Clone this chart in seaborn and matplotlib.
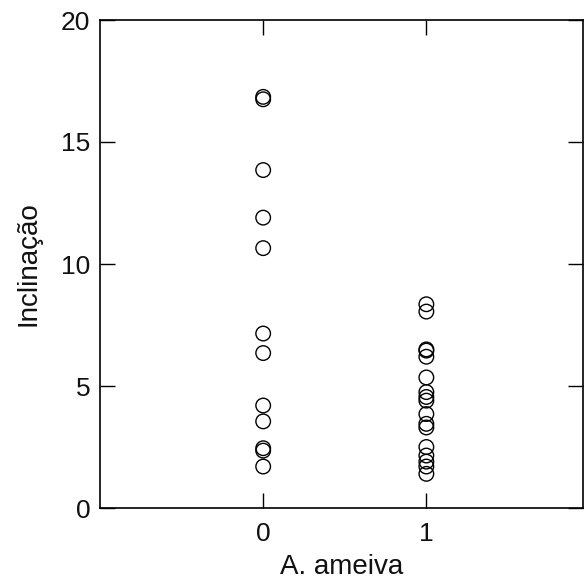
import seaborn as sns
import matplotlib.pyplot as plt
import pandas as pd

# values
grupo0 = [16.85, 16.75, 13.85, 11.9, 10.65, 7.15, 6.35, 4.2, 3.55, 2.45, 2.35, 1.7]
grupo1 = [8.35, 8.05, 6.5, 6.45, 6.2, 5.35, 4.75, 4.55, 4.4, 3.85, 3.45, 3.3,
          2.5, 2.15, 1.9, 1.7, 1.4]
xticks = [0, 1]
yticks = [0, 5, 10, 15, 20]

df = pd.DataFrame({
    "ameiva": [0] * len(grupo0) + [1] * len(grupo1),
    "inclinacao": grupo0 + grupo1,
})

sns.set_style("ticks")
plt.rcParams["font.family"] = ["Liberation Sans", "DejaVu Sans"]

fig = plt.figure(figsize=(5.84, 5.86), dpi=100)
ax = fig.add_axes([100 / 584, 1 - 508 / 586, 483 / 584, 488 / 586])

sns.scatterplot(data=df, x="ameiva", y="inclinacao", ax=ax,
                marker="o", s=110, facecolor="none", edgecolor="black",
                linewidth=1.0)

ax.set_xlim(-1.0, 1.96)
ax.set_ylim(0, 20)
ax.set_xticks(xticks)
ax.set_yticks(yticks)
ax.set_xlabel("A. ameiva", fontsize=20, labelpad=6, color="#111111")
ax.set_ylabel("Inclinação", fontsize=20, labelpad=14, color="#111111")

for s in ax.spines.values():
    s.set_visible(True)
    s.set_linewidth(1.2)
    s.set_color("black")

ax.tick_params(axis="both", direction="in", length=11, width=1.0,
               colors="black", labelcolor="#111111", labelsize=19,
               top=True, right=True)
ax.tick_params(axis="x", pad=10)
ax.tick_params(axis="y", pad=7)

fig.savefig("out.png", dpi=100)
